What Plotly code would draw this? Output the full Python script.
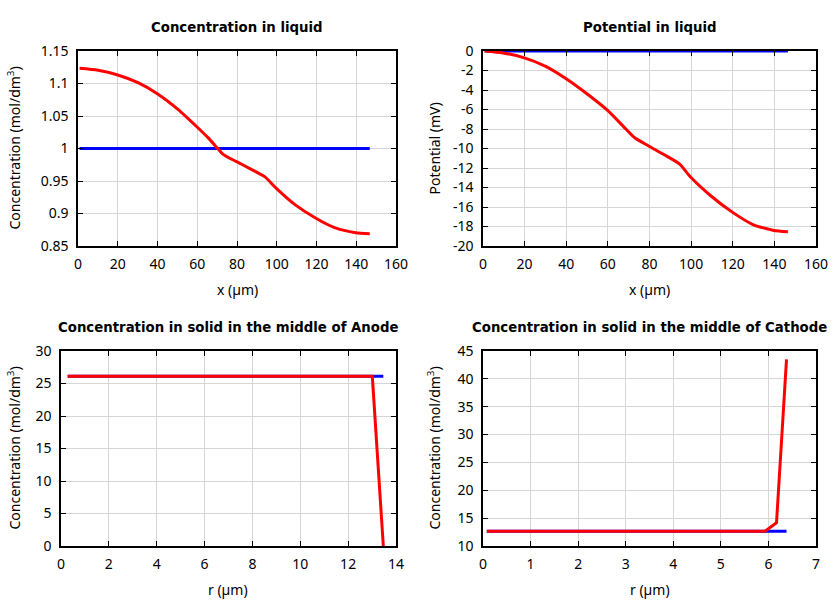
import plotly.graph_objects as go

# ---- Data ----
# Panel 1: Concentration in liquid
liq_x = [0.8, 10.1, 20, 30.2, 39.9, 50.3, 59.9, 65.4, 70.4, 73, 79.8, 87.2, 93.9, 99.8, 109, 119.7, 129.1, 139.7, 146.8]
liq_c_red = [1.1233, 1.1203, 1.1131, 1.1013, 1.0844, 1.0603, 1.0331, 1.0167, 0.9997, 0.991, 0.9797, 0.968, 0.9567, 0.9387, 0.914, 0.8926, 0.8782, 0.8705, 0.869]
liq_c_blue_x = [0.8, 146.8]
liq_c_blue = [1.0, 1.0]

# Panel 2: Potential in liquid
pot_x = [0.8, 9.6, 19.5, 30.4, 39.6, 49.6, 59.6, 67.3, 72.9, 79.6, 87.3, 94.5, 99.6, 109.7, 119.6, 129.7, 139.7, 146.5]
pot_red = [0.0, -0.2, -0.68, -1.6, -2.8, -4.34, -6.05, -7.7, -8.9, -9.74, -10.67, -11.6, -12.9, -14.9, -16.5, -17.8, -18.4, -18.53]
pot_blue_x = [0.8, 146.5]
pot_blue = [0.0, 0.0]

# Panel 3: Concentration in solid, middle of Anode
an_r = [0.28, 13.01, 13.47]
an_red = [26.1, 26.1, 0.0]
an_blue_r = [0.28, 13.47]
an_blue = [26.1, 26.1]

# Panel 4: Concentration in solid, middle of Cathode
ca_r = [0.08, 5.93, 6.17, 6.38]
ca_red = [12.65, 12.65, 14.18, 43.5]
ca_blue_r = [0.08, 6.38]
ca_blue = [12.65, 12.65]

titles = ["Concentration in liquid", "Potential in liquid",
          "Concentration in solid in the middle of Anode",
          "Concentration in solid in the middle of Cathode"]
xtitles = ["x (µm)", "x (µm)", "r (µm)", "r (µm)"]
ytitles = ["Concentration (mol/dm<sup>3</sup>)", "Potential (mV)",
           "Concentration (mol/dm<sup>3</sup>)", "Concentration (mol/dm<sup>3</sup>)"]

y1_vals = [0.85, 0.9, 0.95, 1.0, 1.05, 1.1, 1.15]
y1_text = ["0.85", "0.9", "0.95", "1", "1.05", "1.1", "1.15"]
y2_vals = [0, -2, -4, -6, -8, -10, -12, -14, -16, -18, -20]
y2_text = ["0", "-2", "-4", "-6", "-8", "-10", "-12", "-14", "-16", "-18", "-20"]
x12_vals = [0, 20, 40, 60, 80, 100, 120, 140, 160]
x3_vals = [0, 2, 4, 6, 8, 10, 12, 14]
x4_vals = [0, 1, 2, 3, 4, 5, 6, 7]
y3_vals = [0, 5, 10, 15, 20, 25, 30]
y4_vals = [10, 15, 20, 25, 30, 35, 40, 45]

RED = "#ff0000"
BLUE = "#0000ff"
TITLE_FONT = "DejaVu Sans"
FONT = "Noto Sans"

W, H = 840, 600
# plot areas in pixels (left, right, top, bottom)
boxes = [(78, 396, 51, 246), (483, 816, 51, 246), (61, 396, 351, 546), (483, 816, 351, 546)]

fig = go.Figure()

series = [
    (liq_c_blue_x, liq_c_blue, liq_x, liq_c_red, "spline"),
    (pot_blue_x, pot_blue, pot_x, pot_red, "spline"),
    (an_blue_r, an_blue, an_r, an_red, "linear"),
    (ca_blue_r, ca_blue, ca_r, ca_red, "linear"),
]

for i, (bx, by, rx, ry, shp) in enumerate(series):
    xa = "x" if i == 0 else f"x{i+1}"
    ya = "y" if i == 0 else f"y{i+1}"
    fig.add_trace(go.Scatter(x=bx, y=by, mode="lines", line=dict(color=BLUE, width=3),
                             xaxis=xa, yaxis=ya, showlegend=False))
    fig.add_trace(go.Scatter(x=rx, y=ry, mode="lines",
                             line=dict(color=RED, width=3, shape=shp, smoothing=0.6),
                             xaxis=xa, yaxis=ya, showlegend=False))

xranges = [[0, 160], [0, 160], [0, 14], [0, 7]]
yranges = [[0.85, 1.15], [-20, 0], [0, 30], [10, 45]]
xtv = [x12_vals, x12_vals, x3_vals, x4_vals]
ytv = [y1_vals, y2_vals, y3_vals, y4_vals]
ytt = [y1_text, y2_text, [str(v) for v in y3_vals], [str(v) for v in y4_vals]]

layout = dict(
    width=W, height=H,
    margin=dict(l=0, r=0, t=0, b=0),
    paper_bgcolor="white", plot_bgcolor="white",
    font=dict(family=FONT, size=14, color="black"),
    annotations=[],
)

for i in range(4):
    l, r, t, b = boxes[i]
    xk = "xaxis" if i == 0 else f"xaxis{i+1}"
    yk = "yaxis" if i == 0 else f"yaxis{i+1}"
    anchor_x = "y" if i == 0 else f"y{i+1}"
    anchor_y = "x" if i == 0 else f"x{i+1}"
    common = dict(showline=True, linecolor="black", linewidth=1.5, mirror="allticks",
                  ticks="inside", ticklen=5, tickwidth=1.2, tickcolor="black",
                  showgrid=True, gridcolor="#d6d6d6", gridwidth=1, zeroline=False,
                  automargin=False,
                  tickfont=dict(family=FONT, size=14, color="black"))
    layout[xk] = dict(domain=[l / W, r / W], range=xranges[i], anchor=anchor_x,
                      tickmode="array", tickvals=xtv[i], ticktext=[str(v) for v in xtv[i]],
                      ticklabelstandoff=4, **common)
    layout[yk] = dict(domain=[1 - b / H, 1 - t / H], range=yranges[i], anchor=anchor_y,
                      tickmode="array", tickvals=ytv[i], ticktext=ytt[i],
                      ticklabelstandoff=5, **common)
    # subplot title
    layout["annotations"].append(dict(
        text=f"<b>{titles[i]}</b>", x=(l + r) / 2 / W, y=1 - (27 if i < 2 else 327) / H,
        xref="paper", yref="paper", xanchor="center", yanchor="middle",
        showarrow=False, font=dict(family=TITLE_FONT, size=13.3, color="black")))
    # x axis title
    layout["annotations"].append(dict(
        text=xtitles[i], x=(l + r) / 2 / W, y=1 - (b + 43) / H,
        xref="paper", yref="paper", xanchor="center", yanchor="middle",
        showarrow=False, font=dict(family=FONT, size=14, color="black")))
    # y axis title
    layout["annotations"].append(dict(
        text=ytitles[i], x=(14 if i % 2 == 0 else 434) / W, y=1 - (t + b) / 2 / H,
        xref="paper", yref="paper", xanchor="center", yanchor="middle", textangle=-90,
        showarrow=False, font=dict(family=FONT, size=14, color="black")))

fig.update_layout(**layout)
fig.write_html("out.html", config={"displayModeBar": False},
               post_script="document.body.style.margin='0';document.body.style.padding='0';")
